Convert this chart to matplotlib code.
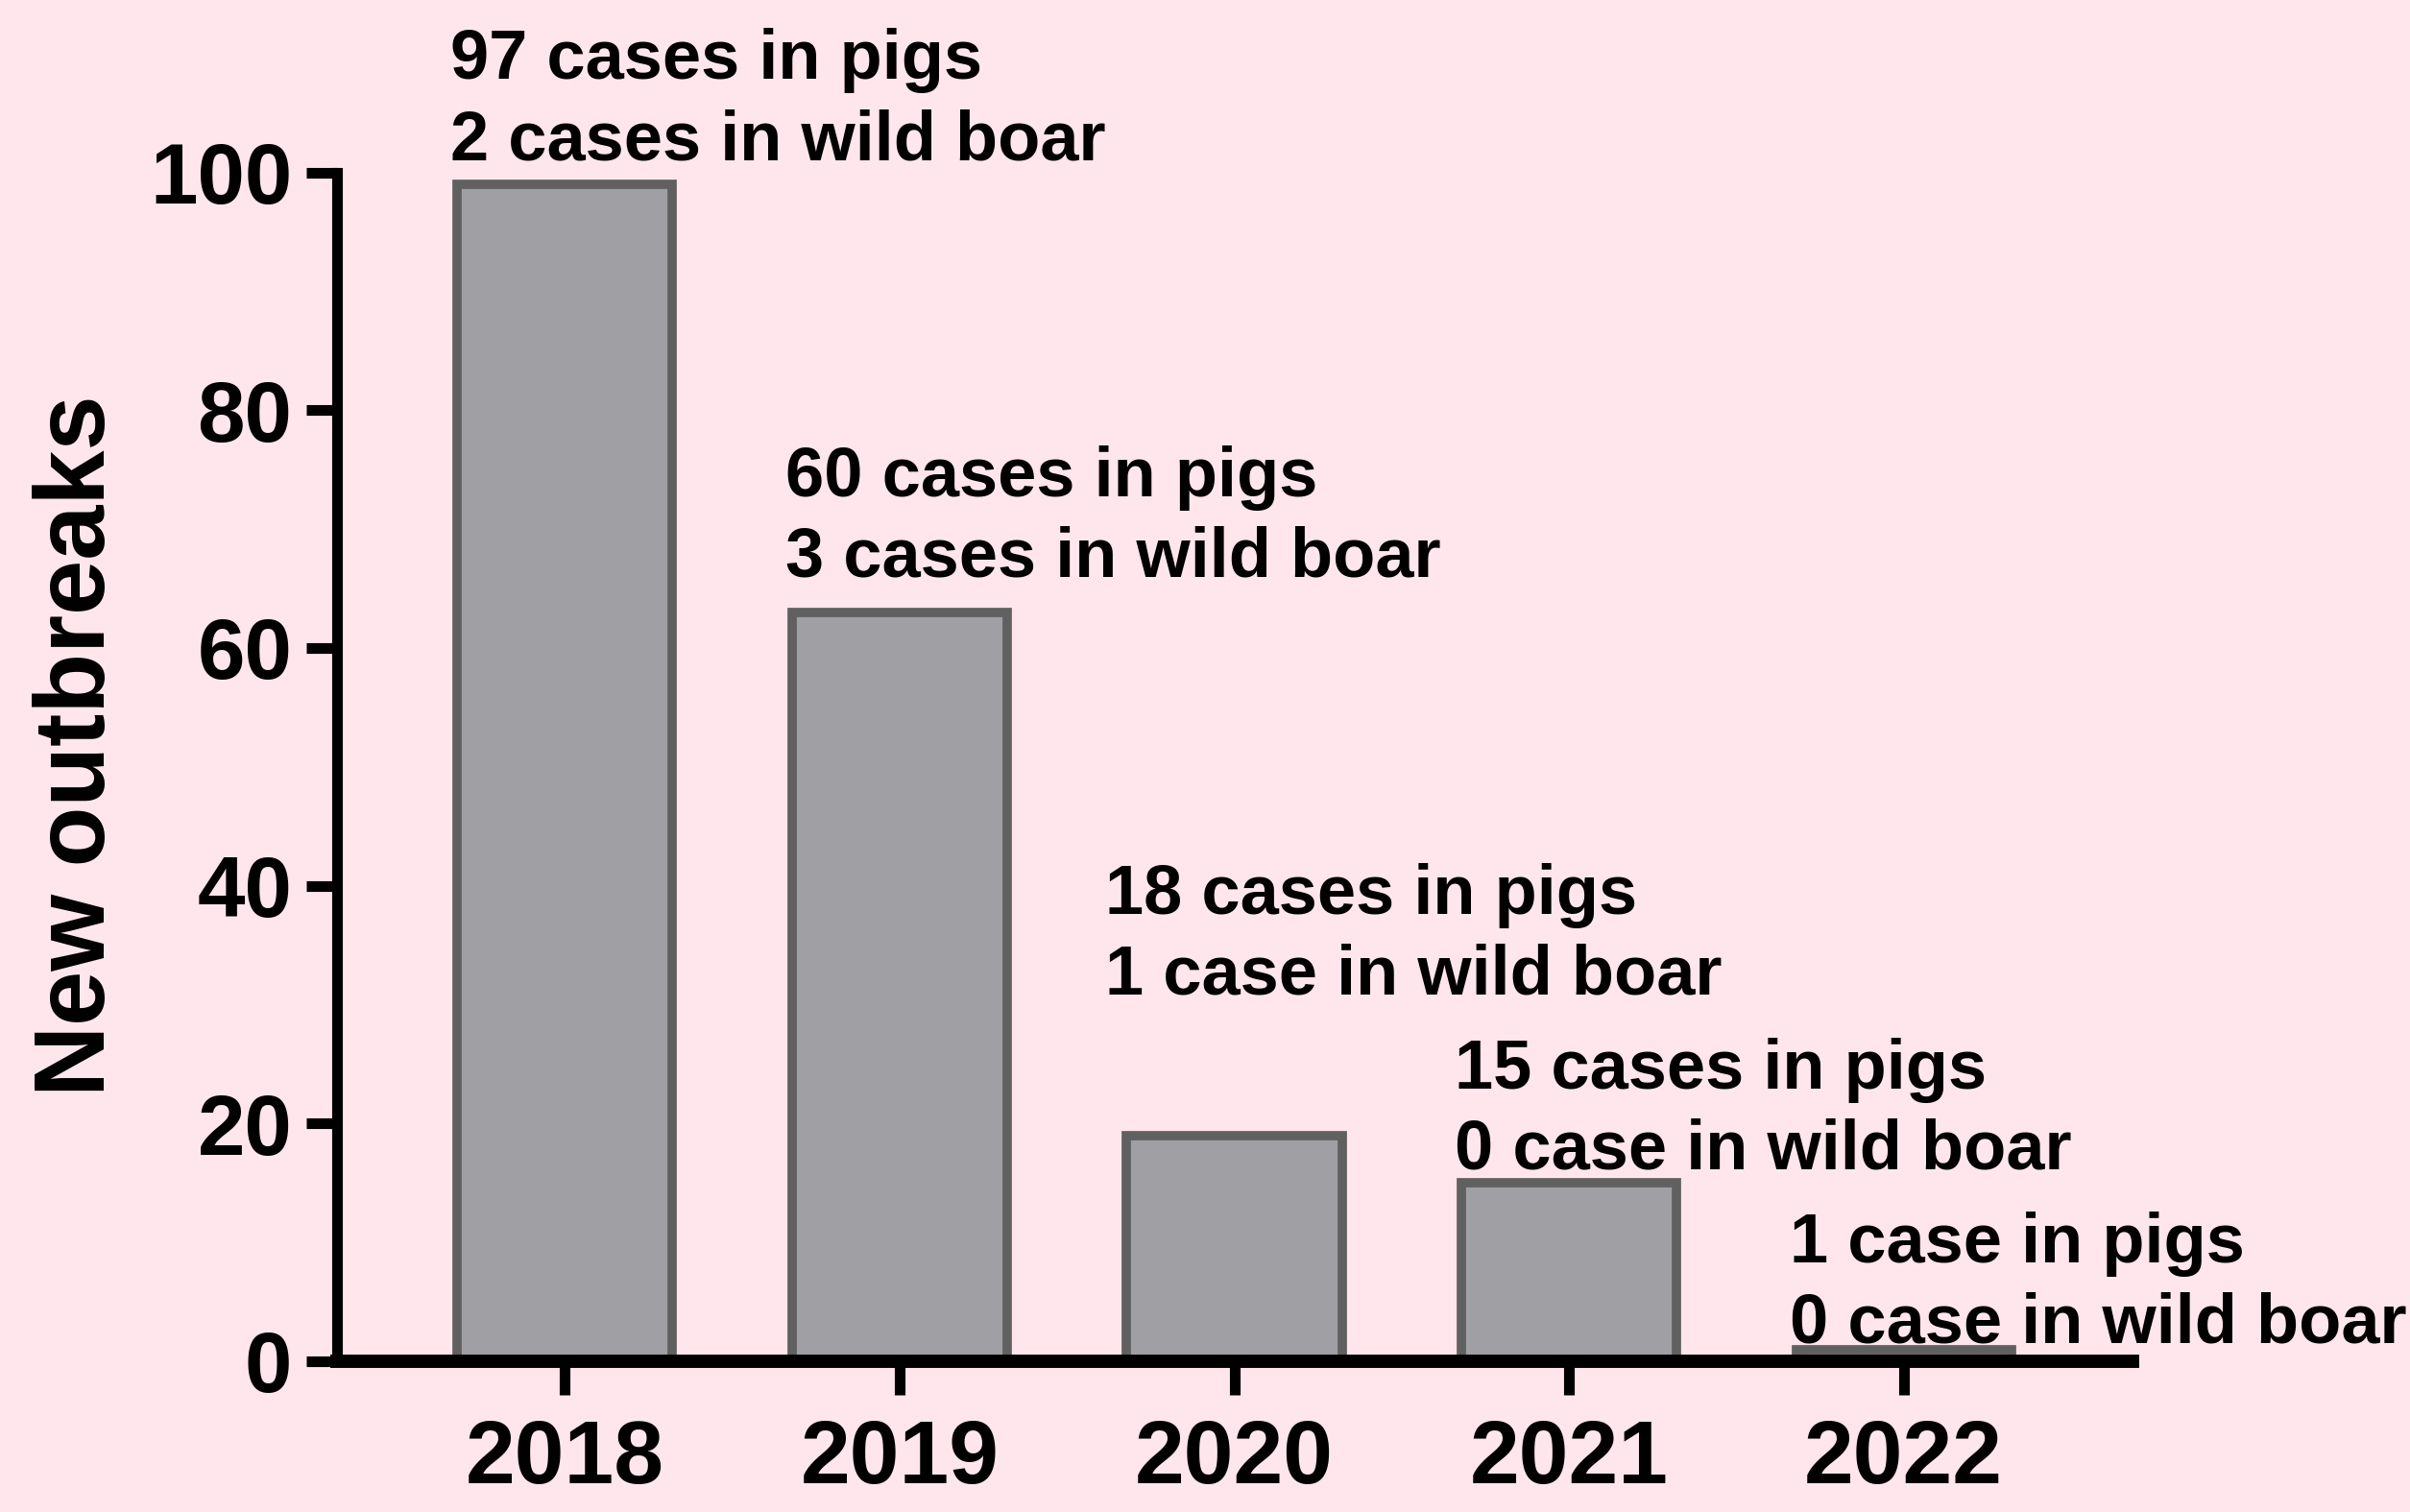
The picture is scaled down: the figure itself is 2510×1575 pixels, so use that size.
import matplotlib
matplotlib.use('Agg')
import matplotlib.pyplot as plt

# Datos
anios = ['2018', '2019', '2020', '2021', '2022']
brotes = [99, 63, 19, 15, 1]
cerdos = [97, 60, 18, 15, 1]
jabali = [2, 3, 1, 0, 0]
etiquetas = [
  '97 cases in pigs\n2 cases in wild boar',
  '60 cases in pigs\n3 cases in wild boar',
  '18 cases in pigs\n1 case in wild boar',
  '15 cases in pigs\n0 case in wild boar',
  '1 case in pigs\n0 case in wild boar',
]
# posición (centro del texto) de cada anotación, en unidades del eje
altura_texto = [106.0, 70.9, 35.8, 21.1, 6.5]
desplaz_x = [-0.02, -0.02, -0.065, -0.02, -0.02]

fondo = '#FEE6EC'
plt.rcParams['font.family'] = ['Liberation Sans', 'DejaVu Sans']
plt.rcParams['font.weight'] = 'bold'

fig = plt.figure(figsize=(25.1, 15.75), dpi=100, facecolor=fondo)
ax = fig.add_axes([0.140, 0.0997, 0.745, 0.7863])
ax.set_facecolor(fondo)

x = list(range(len(anios)))
ancho = 0.643
ax.bar(x, brotes, width=ancho, color='#A09FA4', edgecolor='#606060', linewidth=7, zorder=2)

for i, txt in enumerate(etiquetas):
  ax.text(i - ancho / 2 + desplaz_x[i], altura_texto[i], txt, ha='left', va='center',
          fontsize=52, fontweight='bold', linespacing=1.3, clip_on=False, zorder=3)

ax.set_xlim(-0.68, 4.685)
ax.set_ylim(0, 100)
ax.set_yticks([0, 20, 40, 60, 80, 100])
ax.set_xticks(x)
ax.set_xticklabels(anios)

for lado in ['top', 'right']:
  ax.spines[lado].set_visible(False)
ax.spines['left'].set_linewidth(8)
ax.spines['bottom'].set_linewidth(10)
ax.spines['left'].set_zorder(4)
ax.spines['bottom'].set_zorder(4)

ax.tick_params(axis='y', length=23, width=8, pad=11, labelsize=64)
ax.tick_params(axis='x', length=25, width=8, pad=18, labelsize=67)
for lab in ax.get_xticklabels() + ax.get_yticklabels():
  lab.set_fontweight('bold')

ax.set_ylabel('New outbreaks', fontsize=74, fontweight='bold')
ax.yaxis.set_label_coords(-0.118, 0.518)

fig.savefig('out.png', dpi=100, facecolor=fondo)
